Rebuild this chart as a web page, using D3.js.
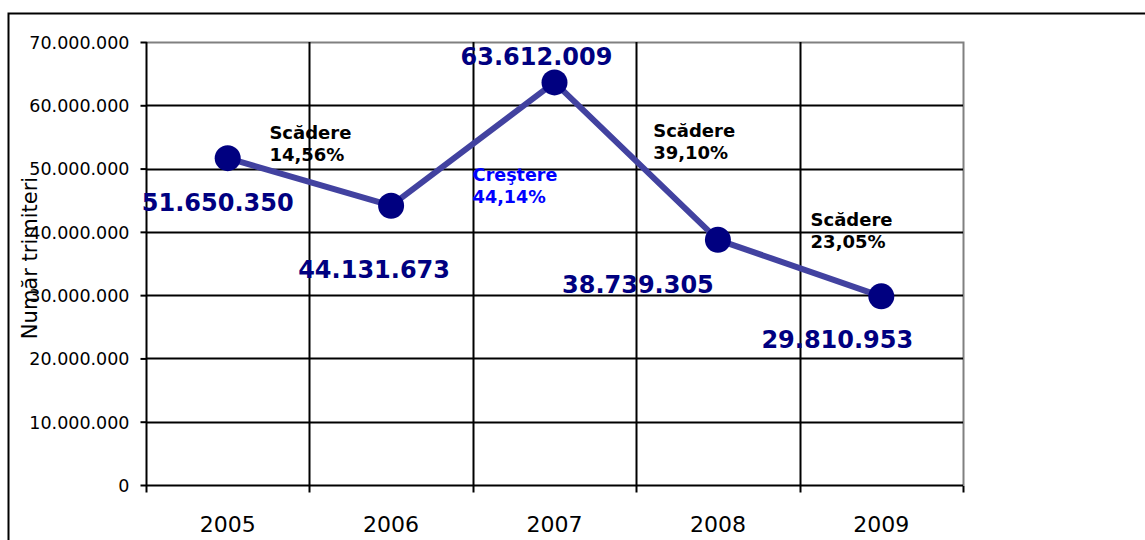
<!DOCTYPE html>
<html>
<head>
<meta charset="utf-8">
<script src="https://cdn.jsdelivr.net/npm/d3@7"></script>
<style>
  html, body { margin: 0; padding: 0; background: #fff; }
  svg { display: block; font-family: "DejaVu Sans", Verdana, sans-serif; }
</style>
</head>
<body>
<svg id="chart" width="1145" height="540"></svg>
<script>
// Number of items sent per year
const years = ["2005", "2006", "2007", "2008", "2009"];
const values = [51650350, 44131673, 63612009, 38739305, 29810953];
const valueLabels = ["51.650.350", "44.131.673", "63.612.009", "38.739.305", "29.810.953"];

// Year-over-year change notes, placed between consecutive years
const changeKinds = ["Scădere", "Creştere", "Scădere", "Scădere"];
const changePercents = ["14,56%", "44,14%", "39,10%", "23,05%"];

const yTicks = [0, 10000000, 20000000, 30000000, 40000000, 50000000, 60000000, 70000000];
const yTitle = "Număr trimiteri";

const svg = d3.select("#chart");
const margin = { left: 146, right: 182, top: 42, bottom: 55 };
const W = 1145, H = 540;
const plotW = W - margin.left - margin.right;
const plotH = H - margin.top - margin.bottom;

const x = d3.scaleBand().domain(years).range([margin.left, margin.left + plotW]).padding(0);
const y = d3.scaleLinear().domain([0, 70000000]).range([margin.top + plotH, margin.top]);

const fmt = v => d3.format(",")(v).replace(/,/g, ".");

// outer frame
svg.append("path")
  .attr("d", `M8.5,540 V13.5 H1145`)
  .attr("fill", "none").attr("stroke", "#000").attr("stroke-width", 2);

// plot border (top/right in gray)
svg.append("path")
  .attr("d", `M${margin.left},${margin.top + 0.5} H${margin.left + plotW + 0.5} V${margin.top + plotH}`)
  .attr("fill", "none").attr("stroke", "#808080").attr("stroke-width", 2);

// horizontal gridlines
svg.append("g").selectAll("line").data(yTicks.slice(1, -1)).join("line")
  .attr("x1", margin.left).attr("x2", margin.left + plotW)
  .attr("y1", d => Math.round(y(d)) + 0.5).attr("y2", d => Math.round(y(d)) + 0.5)
  .attr("stroke", "#000").attr("stroke-width", 2);

// vertical gridlines at category boundaries
const bounds = years.slice(1).map(d => x(d));
svg.append("g").selectAll("line").data(bounds).join("line")
  .attr("x1", d => Math.round(d) + 0.5).attr("x2", d => Math.round(d) + 0.5)
  .attr("y1", margin.top).attr("y2", margin.top + plotH)
  .attr("stroke", "#000").attr("stroke-width", 2);

// y axis
const yAxis = svg.append("g")
  .attr("transform", `translate(${margin.left + 0.5},0)`)
  .call(d3.axisLeft(y).tickValues(yTicks).tickFormat(fmt).tickSize(6).tickPadding(11));
yAxis.select(".domain").attr("stroke", "#000").attr("stroke-width", 2).attr("d", `M0,${margin.top}V${margin.top + plotH}`);
yAxis.selectAll(".tick line").attr("stroke", "#000").attr("stroke-width", 2);
yAxis.selectAll(".tick text").attr("font-size", 17.5).attr("fill", "#000")
  .attr("font-family", "'DejaVu Sans', sans-serif").attr("dy", "0.36em");

// x axis with ticks at category boundaries
const xAxisG = svg.append("g").attr("transform", `translate(0,${margin.top + plotH + 0.5})`);
xAxisG.append("line")
  .attr("x1", margin.left).attr("x2", margin.left + plotW)
  .attr("stroke", "#000").attr("stroke-width", 2);
const edgeTicks = years.map(d => x(d)).concat([x(years[years.length - 1]) + x.bandwidth()]);
xAxisG.selectAll("line.tk").data(edgeTicks).join("line").attr("class", "tk")
  .attr("x1", d => Math.round(d) + 0.5).attr("x2", d => Math.round(d) + 0.5)
  .attr("y1", 0).attr("y2", 7).attr("stroke", "#000").attr("stroke-width", 2);
xAxisG.selectAll("text").data(years).join("text")
  .attr("x", d => x(d) + x.bandwidth() / 2).attr("y", 46)
  .attr("text-anchor", "middle").attr("font-size", 22).attr("fill", "#000")
  .text(d => d);

// y axis title
svg.append("text")
  .attr("transform", `translate(37,258) rotate(-90)`)
  .attr("text-anchor", "middle").attr("font-size", 21).attr("fill", "#000")
  .text(yTitle);

// data series
const cx = d => x(d) + x.bandwidth() / 2;
const pts = years.map((d, i) => [cx(d), y(values[i])]);
svg.append("path")
  .attr("d", d3.line()(pts))
  .attr("fill", "none").attr("stroke", "#4242a0").attr("stroke-width", 6)
  .attr("stroke-linejoin", "round");
svg.append("g").selectAll("circle").data(pts).join("circle")
  .attr("cx", d => d[0]).attr("cy", d => d[1]).attr("r", 13)
  .attr("fill", "#000080");

// value labels (offset from each point)
const labelOffsets = [[-10, 53], [-17, 72], [-18, -17], [-80, 53], [-44, 52]];
svg.append("g").selectAll("text").data(years).join("text")
  .attr("x", (d, i) => pts[i][0] + labelOffsets[i][0])
  .attr("y", (d, i) => pts[i][1] + labelOffsets[i][1])
  .attr("text-anchor", "middle").attr("font-size", 24).attr("font-weight", "bold")
  .attr("fill", "#000080")
  .text((d, i) => valueLabels[i]);

// change notes, anchored to the category boundary between years
const noteOffsets = [[-40, 139], [0, 181], [17, 137], [11, 226]];
const noteColors = ["#000", "#0000ff", "#000", "#000"];
const notes = svg.append("g").selectAll("text").data(changeKinds).join("text")
  .attr("font-weight", "bold")
  .attr("fill", (d, i) => noteColors[i])
  .attr("font-size", (d, i) => i === 1 ? 17.5 : 18);
notes.each(function (d, i) {
  const bx = x(years[i + 1]) + noteOffsets[i][0];
  const by = noteOffsets[i][1];
  const t = d3.select(this);
  t.append("tspan").attr("x", bx).attr("y", by).text(d);
  t.append("tspan").attr("x", bx).attr("y", by + 22).text(changePercents[i]);
});
</script>
</body>
</html>
